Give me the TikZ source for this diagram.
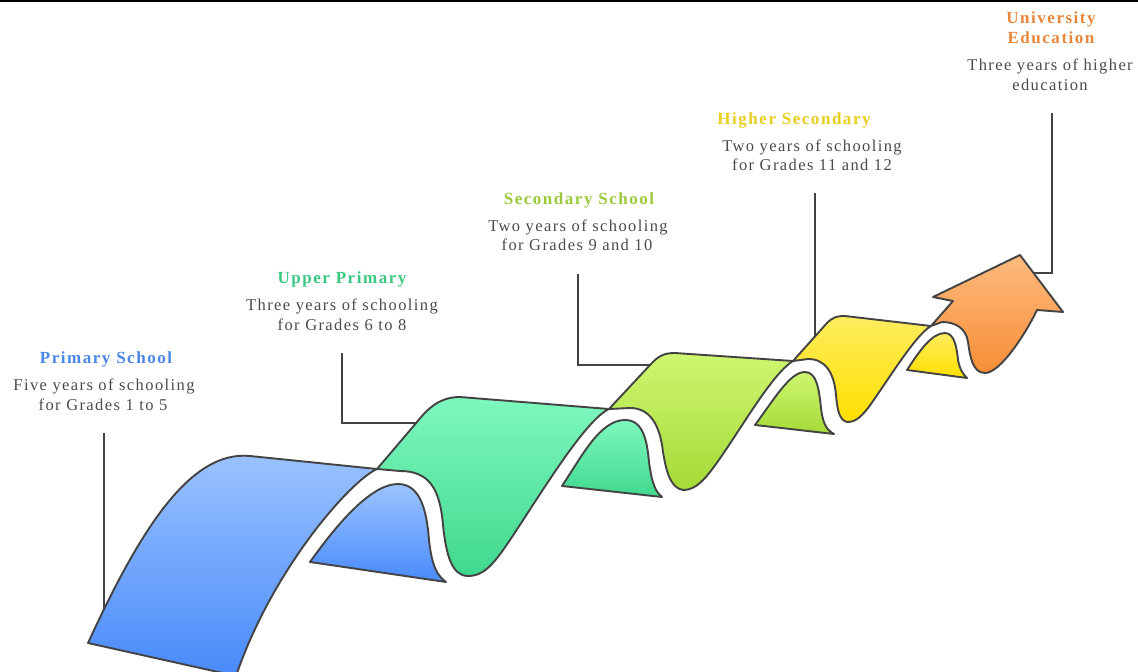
\documentclass[tikz,border=0pt]{standalone}
\usepackage{fontspec}
\setmainfont{Liberation Serif}
\definecolor{edge}{HTML}{434343}
\definecolor{bodytext}{HTML}{4A4A4A}
\definecolor{blueTop}{HTML}{9CC3FF}
\definecolor{blueBot}{HTML}{488AFA}
\definecolor{greenTop}{HTML}{7EF8BE}
\definecolor{greenBot}{HTML}{40D88E}
\definecolor{limeTop}{HTML}{CEF670}
\definecolor{limeBot}{HTML}{A5DA37}
\definecolor{yellowTop}{HTML}{FFEC5E}
\definecolor{yellowBot}{HTML}{FFE000}
\definecolor{orangeTop}{HTML}{FDBA7E}
\definecolor{orangeBot}{HTML}{F78E37}
\definecolor{titleBlue}{HTML}{4A86E8}
\definecolor{titleGreen}{HTML}{3CC882}
\definecolor{titleLime}{HTML}{9BC83C}
\definecolor{titleYellow}{HTML}{E6CD1E}
\definecolor{titleOrange}{HTML}{E6873C}
\begin{document}
\begin{tikzpicture}[x=1pt,y=-1pt,
  outline/.style={draw=edge, line width=1.9pt, line join=round},
  blueband/.style={outline, top color=blueTop, bottom color=blueBot},
  greenband/.style={outline, top color=greenTop, bottom color=greenBot},
  limeband/.style={outline, top color=limeTop, bottom color=limeBot},
  yellowband/.style={outline, top color=yellowTop, bottom color=yellowBot},
  orangeband/.style={outline, top color=orangeTop, bottom color=orangeBot},
  title/.style={anchor=base, inner sep=0pt,
    font=\fontsize{17}{20}\selectfont\bfseries\addfontfeature{LetterSpace=9}},
  desc/.style={anchor=base, inner sep=0pt, text=bodytext,
    font=\fontsize{16.5}{20}\selectfont\addfontfeature{LetterSpace=8.5}},
  leader/.style={draw=edge, line width=1.9pt}
]
\useasboundingbox (0,0) rectangle (1138,672);
\draw[line width=2pt] (0,1) -- (1138,1);

% junctions where one band hands over to the next
\coordinate (J1) at (377,469);
\coordinate (J2) at (609,409);
\coordinate (J3) at (793,361);
\coordinate (J4) at (931,326);

% rear legs of each band
\path[blueband] (310,562) .. controls (335,527) and (370,484) .. (398,484)
  .. controls (422,484) and (427,515) .. (429,540)
  .. controls (432,568) and (438,576) .. (446,582) -- cycle;
\path[greenband] (562,486) .. controls (582,456) and (600,420) .. (625,420)
  .. controls (643,420) and (647,440) .. (649,462)
  .. controls (652,485) and (656,492) .. (662,497) -- cycle;
\path[limeband] (755,425) .. controls (775,398) and (790,372) .. (805,372)
  .. controls (817,372) and (819,390) .. (821,408)
  .. controls (823,425) and (827,430) .. (834,434) -- cycle;
\path[yellowband] (907,370) .. controls (920,350) and (932,333) .. (945,333)
  .. controls (955,333) and (957,350) .. (958,360)
  .. controls (960,370) and (963,374) .. (967,378) -- cycle;

% front faces
\path[blueband] (88,643) .. controls (140,530) and (190,450) .. (250,456) -- (J1)
  .. controls (350,481) and (272,570) .. (236,676) -- cycle;
\path[greenband] (J1) -- (417,422) .. controls (428,408) and (440,397) .. (460,397) -- (J2)
  .. controls (585,420) and (540,495) .. (510,540)
  .. controls (495,562) and (485,576) .. (468,576)
  .. controls (452,576) and (446,555) .. (443,525)
  .. controls (440,490) and (430,471) .. (400,471) -- cycle;
\path[limeband] (J2) -- (650,365) .. controls (658,356) and (664,353) .. (675,353) -- (J3)
  .. controls (770,375) and (735,440) .. (710,472)
  .. controls (700,485) and (692,490) .. (683,490)
  .. controls (670,488) and (666,470) .. (663,452)
  .. controls (660,425) and (650,408) .. (630,408) -- cycle;
\path[yellowband] (J3) -- (827,323) .. controls (833,317) and (837,316) .. (845,316) -- (J4)
  .. controls (915,335) and (885,385) .. (868,408)
  .. controls (860,418) and (855,422) .. (847,422)
  .. controls (838,420) and (837,405) .. (836,395)
  .. controls (834,372) and (825,359) .. (808,359) -- cycle;
\path[orangeband] (J4) -- (953,301) -- (933,297) -- (1020,255) -- (1063,312) -- (1037,310)
  .. controls (1025,335) and (1000,373) .. (985,373)
  .. controls (972,373) and (970,355) .. (968,342)
  .. controls (966,328) and (955,322) .. (942,322) -- cycle;

% labels
\node[title, text=titleBlue]   (t1) at (106,363) {Primary School};
\node[desc] (d1a) at (104,390) {Five years of schooling};
\node[desc] (d1b) at (103,410) {for Grades 1 to 5};

\node[title, text=titleGreen]  (t2) at (342,283) {Upper Primary};
\node[desc] (d2a) at (342,310) {Three years of schooling};
\node[desc] (d2b) at (342,330) {for Grades 6 to 8};

\node[title, text=titleLime]   (t3) at (579,204) {Secondary School};
\node[desc] (d3a) at (578,231) {Two years of schooling};
\node[desc] (d3b) at (577,250) {for Grades 9 and 10};

\node[title, text=titleYellow] (t4) at (794,124) {Higher Secondary};
\node[desc] (d4a) at (812,151) {Two years of schooling};
\node[desc] (d4b) at (812,170) {for Grades 11 and 12};

\node[title, text=titleOrange] (t5a) at (1051,23) {University};
\node[title, text=titleOrange] (t5b) at (1051,43) {Education};
\node[desc] (d5a) at (1050,70) {Three years of higher};
\node[desc] (d5b) at (1050,90) {education};

% leader lines from each caption to its band
\coordinate (k1a) at (104,433);  \coordinate (k1b) at (104,609);
\coordinate (k2a) at (342,353);  \coordinate (k2b) at (342,423);  \coordinate (k2c) at (417,423);
\coordinate (k3a) at (578,274);  \coordinate (k3b) at (578,365);  \coordinate (k3c) at (650,365);
\coordinate (k4a) at (815,193);  \coordinate (k4b) at (815,336);
\coordinate (k5a) at (1052,113); \coordinate (k5b) at (1052,273); \coordinate (k5c) at (1034,273);
\draw[leader] (k1a) -- (k1b);
\draw[leader] (k2a) -- (k2b) -- (k2c);
\draw[leader] (k3a) -- (k3b) -- (k3c);
\draw[leader] (k4a) -- (k4b);
\draw[leader] (k5a) -- (k5b) -- (k5c);
\end{tikzpicture}
\end{document}
